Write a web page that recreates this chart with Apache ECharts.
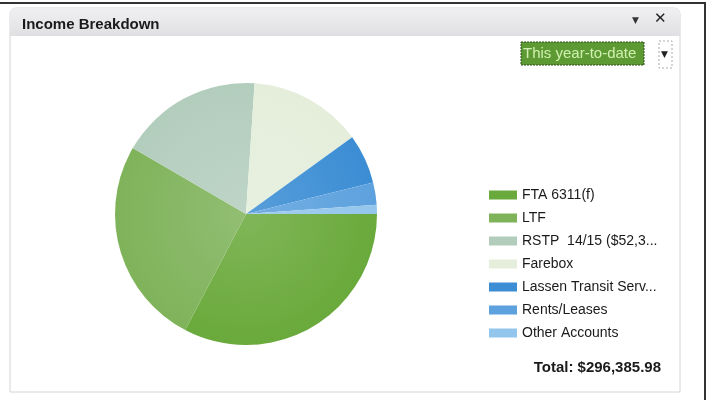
<!DOCTYPE html>
<html>
<head>
<meta charset="utf-8">
<script src="https://cdn.jsdelivr.net/npm/echarts@6/dist/echarts.min.js"></script>
<style>
  html, body { margin: 0; padding: 0; background: #fff; }
  #chart { width: 712px; height: 400px; }
</style>
</head>
<body>
<div id="chart"></div>
<script>
var names = ['FTA 6311(f)', 'LTF', 'RSTP  14/15 ($52,340.00)', 'Farebox',
             'Lassen Transit Service Agency', 'Rents/Leases', 'Other Accounts'];
var values = [96850, 76200, 52340, 41500, 18000, 8200, 3296];
var colors = ['#6aa93b', '#7fb35a', '#b3cdbd', '#e4eedb', '#3b8dd4', '#5da1de', '#93c6ec'];
var totalLabel = 'Total: $296,385.98';
var periodLabel = 'This year-to-date';

var chart = echarts.init(document.getElementById('chart'));
var cx = 246, cy = 214, r = 131;

function lighten(hex, k) {
  var n = parseInt(hex.slice(1), 16);
  var c = [(n >> 16) & 255, (n >> 8) & 255, n & 255].map(function (v) {
    return Math.round(v + (255 - v) * k);
  });
  return 'rgb(' + c.join(',') + ')';
}

var pieData = names.map(function (n, i) {
  return {
    name: n,
    value: values[i],
    itemStyle: {
      color: new echarts.graphic.RadialGradient(cx, cy, r, [
        { offset: 0, color: lighten(colors[i], 0.15) },
        { offset: 1, color: colors[i] }
      ], true)
    }
  };
});

chart.setOption({
  animation: false,
  color: colors,
  title: {
    text: 'Income Breakdown',
    left: 17, top: 12,
    textStyle: { fontFamily: 'Liberation Sans', fontSize: 15, fontWeight: 'bold', color: '#1a1a1a' }
  },
  legend: {
    orient: 'vertical',
    left: 484, top: 183,
    itemWidth: 28, itemHeight: 9, itemGap: 9,
    icon: 'rect',
    data: names.map(function (n, i) { return { name: n, itemStyle: { color: colors[i] } }; }),
    textStyle: {
      fontFamily: 'Liberation Sans', fontSize: 14, color: '#1a1a1a',
      width: 139, overflow: 'truncate', ellipsis: '...'
    },
    selectedMode: false
  },
  graphic: [
    // outer frame
    { type: 'rect', shape: { x: 0, y: 2, width: 706, height: 2 }, style: { fill: '#333' }, z: 0 },
    { type: 'rect', shape: { x: 704, y: 2, width: 2, height: 398 }, style: { fill: '#333' }, z: 0 },
    // panel
    { type: 'rect', shape: { x: 10, y: 8, width: 670, height: 384, r: [6, 6, 0, 0] },
      style: { fill: '#fff', stroke: '#d4d4d4', lineWidth: 1 }, z: -1 },
    { type: 'rect', shape: { x: 10, y: 8, width: 670, height: 28, r: [6, 6, 0, 0] },
      style: { fill: new echarts.graphic.LinearGradient(0, 0, 0, 1, [
        { offset: 0, color: '#f0f0f2' }, { offset: 1, color: '#e0e0e3' }]) }, z: -1 },
    { type: 'text', left: 632, top: 16, style: { text: '▼', font: '9px DejaVu Sans', fill: '#333' } },
    { type: 'text', left: 654, top: 12, style: { text: '✕', font: 'bold 15px DejaVu Sans', fill: '#222' } },
    // period dropdown
    { type: 'rect', shape: { x: 521, y: 42, width: 123, height: 23 },
      style: { fill: '#5e9a34', stroke: '#2f4f1c', lineWidth: 1, lineDash: [2, 1] } },
    { type: 'text', left: 523, top: 46, style: { text: periodLabel, font: '15px Liberation Sans', fill: '#d0f0b0' } },
    { type: 'rect', shape: { x: 659, y: 41, width: 13, height: 27 },
      style: { fill: '#fff', stroke: '#aaa', lineWidth: 1, lineDash: [2, 2] } },
    { type: 'text', left: 661, top: 50, style: { text: '▼', font: '9px DejaVu Sans', fill: '#222' } },
    // total
    { type: 'text', right: 51, top: 360, style: { text: totalLabel, font: 'bold 15px Liberation Sans', fill: '#1a1a1a' } }
  ],
  series: [{
    type: 'pie',
    center: [cx, cy],
    radius: [0, r],
    startAngle: 0,
    clockwise: true,
    label: { show: false },
    labelLine: { show: false },
    itemStyle: { borderWidth: 0 },
    data: pieData
  }]
});
</script>
</body>
</html>
